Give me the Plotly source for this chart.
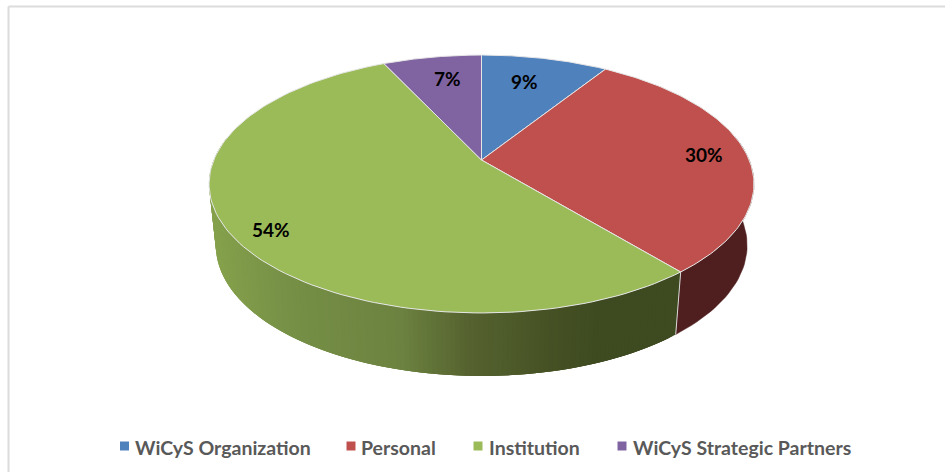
import numpy as np
import plotly.graph_objects as go

categories = ["WiCyS Organization", "Personal", "Institution", "WiCyS Strategic Partners"]
shares = [9, 30, 54, 7]
top_colors = ["#4f81bd", "#c0504d", "#9bbb59", "#8064a2"]
label_xy = [(524, 81), (704, 154), (271, 229), (447, 78)]
legend_marker_x = [124.5, 351, 478, 622]
legend_text_x = [133, 359, 487, 631]
LEGEND_Y = 446

# perspective model of the tilted disc, in page pixels
CX, CY, A, B, K = 481.5, 160.0, 267.7, 124.5, -0.186
SHRINK = 0.975


def rim(theta):
    u, v = np.sin(theta), -np.cos(theta)
    d = 1 + K * v
    return CX + A * u / d, CY + B * v / d


def floor(theta):
    x, y = rim(theta)
    v = -np.cos(theta)
    return CX + (x - CX) * SHRINK, y + 61 + 2 * v


def mix(stops, x):
    xs = [s[0] for s in stops]
    rgb = [np.interp(x, xs, [s[1][i] for s in stops]) for i in range(3)]
    return "rgb(%d,%d,%d)" % tuple(int(round(c)) for c in rgb)


green_stops = [(210, (134, 162, 76)), (295, (118, 144, 70)), (412, (108, 130, 64)),
               (478, (86, 99, 48)), (560, (70, 82, 36)), (610, (62, 74, 32)), (680, (62, 74, 32))]

fig = go.Figure()
edges = np.cumsum([0] + shares) / sum(shares) * 2 * np.pi


def wall(t0, t1, color, width):
    tt = np.linspace(t0, t1, 40)
    xt, yt = rim(tt)
    xb, yb = floor(tt)
    px = list(xt) + list(xb[::-1]) + [xt[0]]
    py = list(yt) + list(yb[::-1]) + [yt[0]]
    fig.add_trace(go.Scatter(x=px, y=py, mode="lines", fill="toself", fillcolor=color,
                             line=dict(color=color, width=width), showlegend=False, hoverinfo="skip"))


# red wall: one flat colour
wall(max(edges[1], np.pi / 2 - 0.2), edges[2], "rgb(79,30,30)", 0.5)

# green wall: strips painted from the far end back, each overlapping the next
g_lo, g_hi = edges[2], min(edges[3], 3 * np.pi / 2 + 0.2)
g_steps = np.linspace(g_lo, g_hi, 170)
for j in range(len(g_steps) - 2, -1, -1):
    t_end = g_steps[min(j + 3, len(g_steps) - 1)]
    wall(g_steps[j], t_end, mix(green_stops, float(rim(g_steps[j])[0])), 0)

# pale seam where the green and red walls meet
seam_t = np.array([edges[2]])
sx0, sy0 = rim(seam_t)
sx1, sy1 = floor(seam_t)
fig.add_trace(go.Scatter(x=[sx0[0], sx1[0]], y=[sy0[0], sy1[0]], mode="lines",
                         line=dict(color="#d9d9d9", width=1), showlegend=False, hoverinfo="skip"))

# top faces
for i, col in enumerate(top_colors):
    tt = np.linspace(edges[i], edges[i + 1], 120)
    x, y = rim(tt)
    px = [CX] + list(x) + [CX]
    py = [CY] + list(y) + [CY]
    fig.add_trace(go.Scatter(x=px, y=py, mode="lines", fill="toself", fillcolor=col,
                             line=dict(color="#e6e6e6", width=1), showlegend=False, hoverinfo="skip"))

# legend: square keys and their labels
for name, col, mx, tx in zip(categories, top_colors, legend_marker_x, legend_text_x):
    fig.add_trace(go.Scatter(x=[mx], y=[LEGEND_Y], mode="markers", name=name, showlegend=False,
                             marker=dict(symbol="square", size=9, color=col), hoverinfo="name"))
    fig.add_annotation(x=tx, y=LEGEND_Y + 1, text="<b>%s</b>" % name, showarrow=False, xanchor="left",
                       font=dict(family="Lato", size=19.5, color="#595959"))

for s, (lx, ly) in zip(shares, label_xy):
    fig.add_annotation(x=lx, y=ly, text="<b>%d%%</b>" % s, showarrow=False,
                       font=dict(family="Lato", size=19, color="#000000"))

fig.update_layout(
    width=945, height=472, margin=dict(l=0, r=0, t=0, b=0),
    paper_bgcolor="white", plot_bgcolor="white",
    xaxis=dict(range=[0, 945], visible=False, fixedrange=True),
    yaxis=dict(range=[472, 0], visible=False, fixedrange=True),
    showlegend=False,
    shapes=[
        dict(type="line", xref="x", yref="y", x0=8.5, x1=945, y0=6.5, y1=6.5,
             line=dict(color="#dcdcdc", width=2)),
        dict(type="line", xref="x", yref="y", x0=8.5, x1=8.5, y0=6.5, y1=472,
             line=dict(color="#dcdcdc", width=2)),
    ],
)
fig.write_html("out.html", config=dict(displayModeBar=False),
               post_script="document.body.style.margin='0';document.body.style.overflow='hidden';")
